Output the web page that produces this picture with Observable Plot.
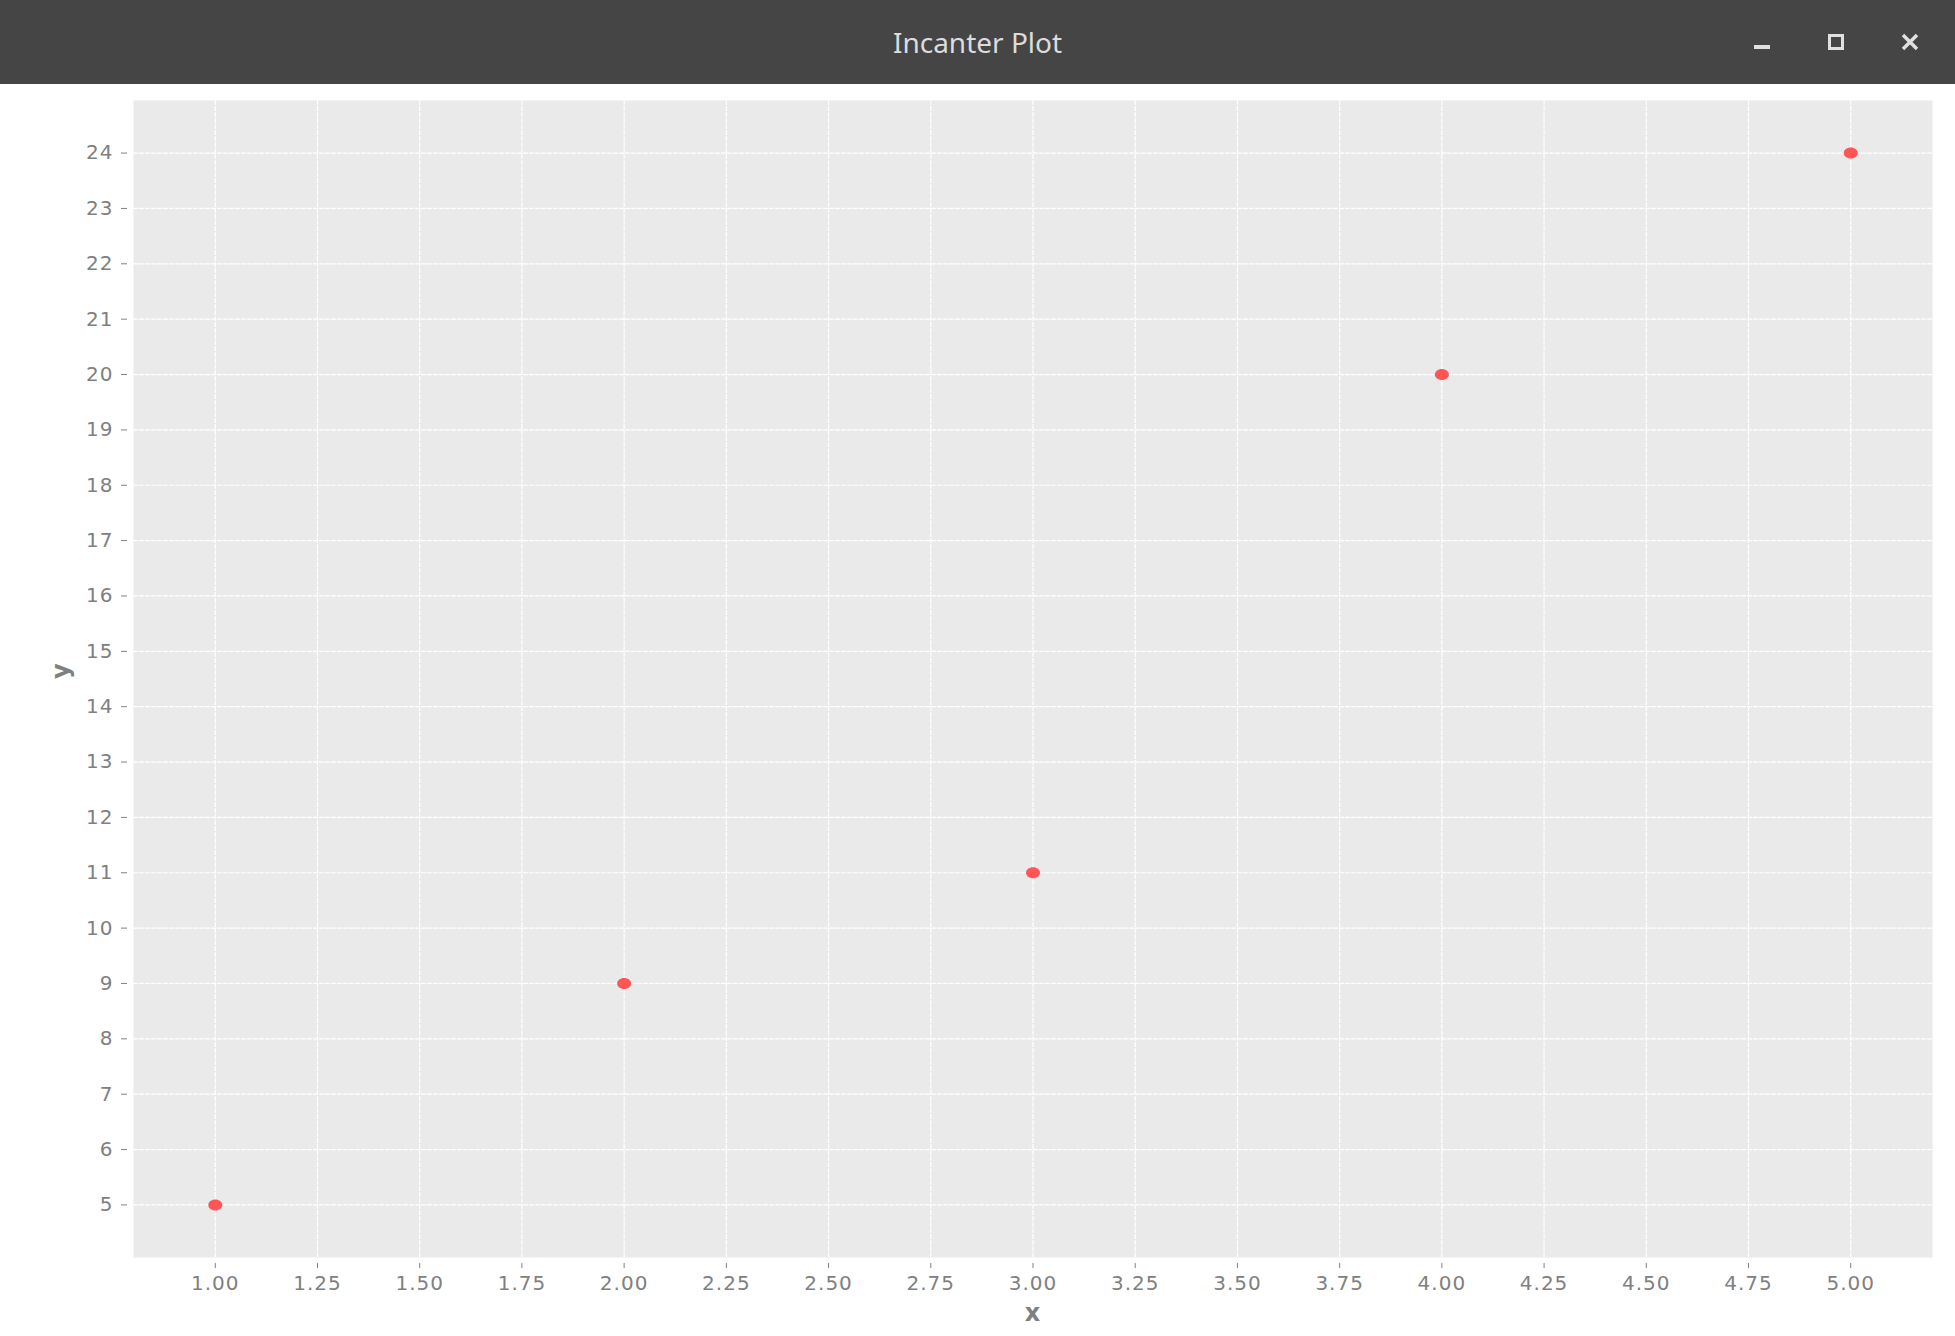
<!DOCTYPE html>
<html>
<head>
<meta charset="utf-8">
<script src="https://cdn.jsdelivr.net/npm/d3@7"></script>
<script src="https://cdn.jsdelivr.net/npm/@observablehq/plot@0.6"></script>
<style>
  html, body { margin: 0; padding: 0; background: #ffffff; width: 1955px; height: 1336px; overflow: hidden; }
  #titlebar { position: relative; width: 1955px; height: 84px; background: #454545; }
  #titlebar .title { position: absolute; left: 0; right: 0; top: 0; height: 84px; line-height: 84px; text-align: center;
    font-family: "Noto Sans", "Open Sans", sans-serif; font-size: 28px; color: #dcdcdc; }
  #titlebar .ctl { position: absolute; background: #e0e0e0; }
  #chart svg { display: block; }
</style>
</head>
<body>
<div id="titlebar">
  <div class="title">Incanter Plot</div>
  <div class="ctl" style="left:1754px; top:45px; width:16px; height:4px;"></div>
  <div style="position:absolute; left:1828px; top:34px; width:10px; height:10px; border:3px solid #e0e0e0;"></div>
  <svg style="position:absolute; left:1901px; top:33px;" width="18" height="18">
    <path d="M2,2 L16,16 M16,2 L2,16" stroke="#e0e0e0" stroke-width="3.5" fill="none"/>
  </svg>
</div>
<div id="chart"></div>
<script>
const xValues = [1, 2, 3, 4, 5];
const yValues = [5, 9, 11, 20, 24];
const xTicks = [1.00, 1.25, 1.50, 1.75, 2.00, 2.25, 2.50, 2.75, 3.00, 3.25, 3.50, 3.75, 4.00, 4.25, 4.50, 4.75, 5.00];
const yTicks = [5, 6, 7, 8, 9, 10, 11, 12, 13, 14, 15, 16, 17, 18, 19, 20, 21, 22, 23, 24];
const xLabel = "x";
const yLabel = "y";

const points = xValues.map((x, i) => ({x, y: yValues[i]}));

// ellipse-shaped symbol like the Java2D point
const ellipse = {
  draw(ctx) {
    const rx = 7, ry = 5.5, k = 0.5523;
    ctx.moveTo(rx, 0);
    ctx.bezierCurveTo(rx, ry * k, rx * k, ry, 0, ry);
    ctx.bezierCurveTo(-rx * k, ry, -rx, ry * k, -rx, 0);
    ctx.bezierCurveTo(-rx, -ry * k, -rx * k, -ry, 0, -ry);
    ctx.bezierCurveTo(rx * k, -ry, rx, -ry * k, rx, 0);
    ctx.closePath();
  }
};

const gray = "#808080";

const chart = Plot.plot({
  width: 1955,
  height: 1252,
  marginLeft: 133,
  marginRight: 23,
  marginTop: 16,
  marginBottom: 79,
  style: {fontFamily: "DejaVu Sans", fontSize: "20px", letterSpacing: "1px", color: gray, background: "#ffffff"},
  x: {domain: [0.8, 5.2]},
  y: {domain: [4.05, 24.95]},
  marks: [
    Plot.frame({fill: "#eaeaea", stroke: null}),
    Plot.gridX(xTicks, {stroke: "#ffffff", strokeOpacity: 1, strokeWidth: 1.2, strokeDasharray: "5,1"}),
    Plot.gridY(yTicks, {stroke: "#ffffff", strokeOpacity: 1, strokeWidth: 1.2, strokeDasharray: "5,1"}),
    Plot.axisY(yTicks, {tickSize: 6, dx: -6, tickPadding: 8, stroke: gray, fill: gray, label: null, tickFormat: d => String(d)}),
    Plot.axisX(xTicks, {tickSize: 5, dy: 6, tickPadding: 7, stroke: gray, fill: gray, label: null, tickFormat: d3.format(".2f")}),
    Plot.text([yLabel], {frameAnchor: "left", dx: -72, text: d => d, rotate: -90, fontWeight: "bold", fontSize: 24, fill: gray}),
    Plot.text([xLabel], {frameAnchor: "bottom", dy: 56, lineAnchor: "middle", text: d => d, fontWeight: "bold", fontSize: 24, fill: gray}),
    Plot.dot(points, {x: "x", y: "y", symbol: ellipse, fill: "#ff5555", stroke: null})
  ]
});
document.getElementById("chart").appendChild(chart);
</script>
</body>
</html>
